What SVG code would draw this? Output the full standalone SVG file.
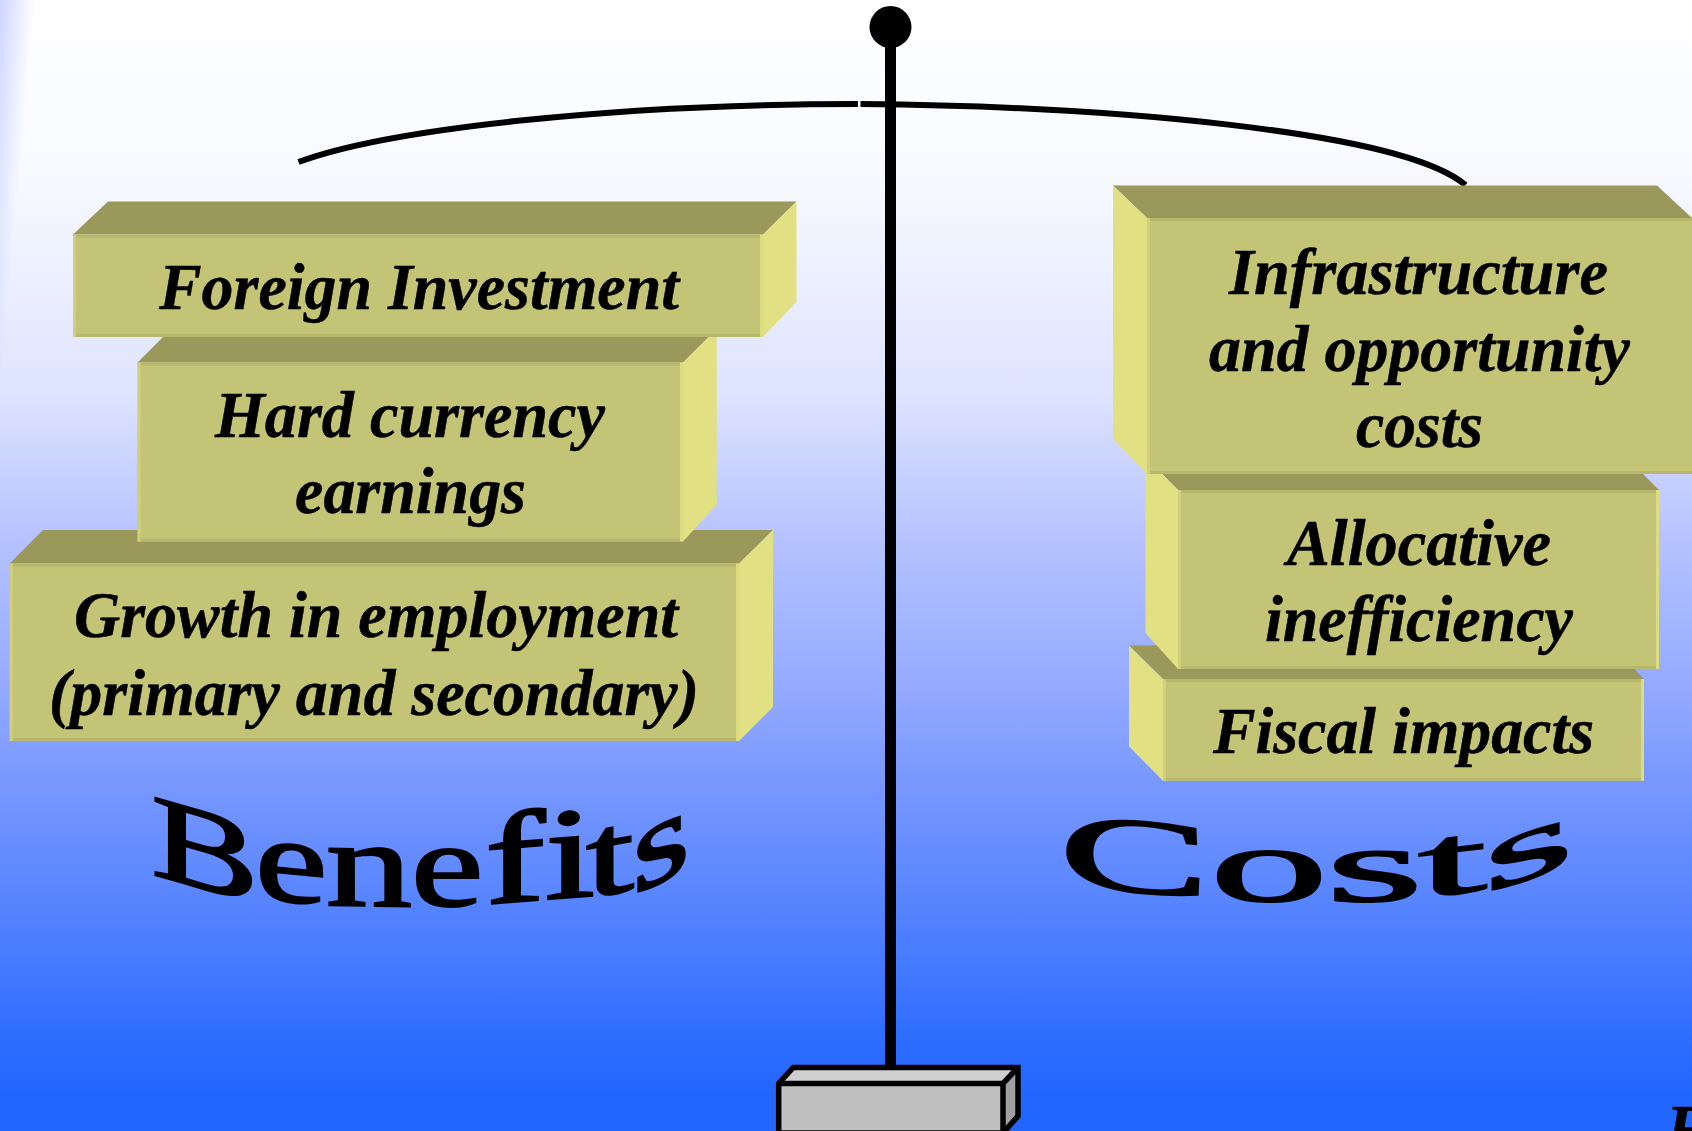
<svg xmlns="http://www.w3.org/2000/svg" width="1692" height="1131" viewBox="0 0 1692 1131">
<defs>
<linearGradient id="bg" x1="0" y1="0" x2="0" y2="1">
<stop offset="0" stop-color="#ffffff"/>
<stop offset="0.16" stop-color="#f7f9ff"/>
<stop offset="0.345" stop-color="#dfe4ff"/>
<stop offset="0.475" stop-color="#b6c3ff"/>
<stop offset="0.62" stop-color="#90a8ff"/>
<stop offset="0.67" stop-color="#7f9cff"/>
<stop offset="0.82" stop-color="#5080ff"/>
<stop offset="0.915" stop-color="#2f6dff"/>
<stop offset="0.97" stop-color="#2066ff"/>
<stop offset="1" stop-color="#2066ff"/>
</linearGradient>
<linearGradient id="edge" gradientUnits="userSpaceOnUse" x1="0" y1="0" x2="34.7" y2="3.1">
<stop offset="0" stop-color="#b4bfff" stop-opacity="0.65"/>
<stop offset="1" stop-color="#b4bfff" stop-opacity="0"/>
</linearGradient>
</defs>
<style>
.front{fill:#c4c476}
.top{fill:#9a985a}
.side{fill:#e1e184}
.bt{fill:#b6b66c}
.bb{fill:#b8b86c}
.bl{fill:#d0d07c}
.br{fill:#dcdc80}
.lab{font-family:"Liberation Serif","Times New Roman",serif;font-weight:bold;font-style:italic;font-size:65px;fill:#000;stroke:#000;stroke-width:.5px}
.wa{font-family:"Liberation Serif","Times New Roman",serif;font-size:100px;fill:#000;stroke:#000;stroke-width:1.8px}
.beam{fill:none;stroke:#000;stroke-width:6}
.line{fill:none;stroke:#000;stroke-width:5.5;stroke-linejoin:miter}
</style>
<rect id="background" width="1692" height="1131" fill="url(#bg)"/>
<rect width="36" height="400" fill="url(#edge)"/>

<g id="balance">
<path class="beam" d="M298.5 162C390 128 620 104 858 104"/>
<path class="beam" d="M860.5 104C1100 106 1400 130 1465.5 185"/>
<rect x="885" y="30" width="11" height="1040" fill="#000"/>
<ellipse cx="890.5" cy="27" rx="21" ry="21" fill="#000"/>
<g id="base">
<path fill="#cfcfcf" d="M778.7 1083.5L793.3 1067.5H1018L1003 1083.5Z"/>
<path fill="#a0a0a0" d="M1003 1083.5L1018 1067.5V1116L1003 1133Z"/>
<rect fill="#c0c0c0" x="778.7" y="1083.5" width="224.3" height="50"/>
<path class="line" d="M778.7 1134V1083.5L793.3 1067.5H1018V1116L1003 1133"/>
<path class="line" d="M778.7 1083.5H1003L1018 1067.5M1003 1083.5V1134M778.7 1133H1003"/>
</g>
</g>

<g id="node-growth">
<path class="top" d="M9.7 563.6L43 530H773L739 563.6Z"/>
<path class="side" d="M739 563.6L773 530V707L739 741Z"/>
<rect class="front" x="9.7" y="563.6" width="729.3" height="177.4"/>
<rect class="bt" x="9.7" y="563.6" width="729.3" height="3"/>
<rect class="bb" x="9.7" y="738" width="729.3" height="3"/>
<rect class="bl" x="9.7" y="563.6" width="3" height="177.4"/>
<rect class="br" x="736" y="563.6" width="3" height="177.4"/>
<text class="lab" x="74" y="637" textLength="604" lengthAdjust="spacingAndGlyphs">Growth in employment</text>
<text class="lab" x="49" y="715" textLength="650" lengthAdjust="spacingAndGlyphs">(primary and secondary)</text>
</g>

<g id="node-hard-currency">
<path class="top" d="M137.6 362.5L171 329H716.7L683 362.5Z"/>
<path class="side" d="M683 362.5L716.7 329V505L683 541.5Z"/>
<rect class="front" x="137.6" y="362.5" width="545.4" height="179"/>
<rect class="bt" x="137.6" y="362.5" width="545.4" height="3"/>
<rect class="bb" x="137.6" y="538.5" width="545.4" height="3"/>
<rect class="bl" x="137.6" y="362.5" width="3" height="179"/>
<rect class="br" x="680" y="362.5" width="3" height="179"/>
<text class="lab" x="215" y="437" textLength="390" lengthAdjust="spacingAndGlyphs">Hard currency</text>
<text class="lab" x="295" y="513" textLength="231" lengthAdjust="spacingAndGlyphs">earnings</text>
</g>

<g id="node-foreign-investment">
<path class="top" d="M73 234.6L108 201.5H796.5L763 234.6Z"/>
<path class="side" d="M763 234.6L796.5 201.5V302L763 337Z"/>
<rect class="front" x="73" y="234.6" width="690" height="102.4"/>
<rect class="bt" x="73" y="234.6" width="690" height="3"/>
<rect class="bb" x="73" y="334" width="690" height="3"/>
<rect class="bl" x="73" y="234.6" width="3" height="102.4"/>
<rect class="br" x="760" y="234.6" width="3" height="102.4"/>
<text class="lab" x="159" y="309" textLength="520" lengthAdjust="spacingAndGlyphs">Foreign Investment</text>
</g>

<g id="node-fiscal">
<path class="top" d="M1129 645.6H1612L1644 679H1163Z"/>
<path class="side" d="M1129 645.6L1163 679V780.7L1129 746.5Z"/>
<rect class="front" x="1163" y="679" width="481" height="101.7"/>
<rect class="bt" x="1163" y="679" width="481" height="3"/>
<rect class="bb" x="1163" y="777.7" width="481" height="3"/>
<rect class="bl" x="1163" y="679" width="3" height="101.7"/>
<rect class="br" x="1641" y="679" width="3" height="101.7"/>
<text class="lab" x="1213" y="753" textLength="381" lengthAdjust="spacingAndGlyphs">Fiscal impacts</text>
</g>

<g id="node-allocative">
<path class="top" d="M1145.5 457H1626L1659 490H1178Z"/>
<path class="side" d="M1145.5 457L1178 490V669L1145.5 633Z"/>
<rect class="front" x="1178" y="490" width="481" height="179"/>
<rect class="bt" x="1178" y="490" width="481" height="3"/>
<rect class="bb" x="1178" y="666" width="481" height="3"/>
<rect class="bl" x="1178" y="490" width="3" height="179"/>
<rect class="br" x="1656" y="490" width="3" height="179"/>
<text class="lab" x="1287" y="565" textLength="264" lengthAdjust="spacingAndGlyphs">Allocative</text>
<text class="lab" x="1265" y="641" textLength="308" lengthAdjust="spacingAndGlyphs">inefficiency</text>
</g>

<g id="node-infrastructure">
<path class="top" d="M1113 185.4H1657L1692 218H1147Z"/>
<path class="side" d="M1113 185.4L1147 218V474L1113 439Z"/>
<rect class="front" x="1147" y="218" width="545" height="256"/>
<rect class="bt" x="1147" y="218" width="545" height="3"/>
<rect class="bb" x="1147" y="471" width="545" height="3"/>
<rect class="bl" x="1147" y="218" width="3" height="256"/>
<text class="lab" x="1229" y="294" textLength="379" lengthAdjust="spacingAndGlyphs">Infrastructure</text>
<text class="lab" x="1209" y="371" textLength="421" lengthAdjust="spacingAndGlyphs">and opportunity</text>
<text class="lab" x="1356" y="447" textLength="127" lengthAdjust="spacingAndGlyphs">costs</text>
</g>

<g id="title-benefits">
<text class="wa" transform="matrix(1.61 .46 0 1.18 151.3 874)">B</text>
<text class="wa" transform="matrix(1.63 .16 0 1.21 255 898)">e</text>
<text class="wa" transform="matrix(1.72 .03 0 1.23 326 905)">n</text>
<text class="wa" transform="matrix(1.63 0 0 1.21 411 906)">e</text>
<text class="wa" transform="matrix(1.8 -.14 0 1.3 485 904)">fi</text>
<text class="wa" transform="matrix(1.72 -.3 0 1.17 586 898)">t</text>
<text class="wa" transform="matrix(1.47 -.73 0 1.22 632.5 896)">s</text>
</g>
<g id="title-costs">
<text class="wa" transform="matrix(2.26 .2 0 1.07 1059 885)">C</text>
<text class="wa" transform="matrix(2.36 0 0 1.05 1210 901)">o</text>
<text class="wa" transform="matrix(2.5 -.05 0 1.05 1326 902)">s</text>
<text class="wa" transform="matrix(2.47 -.3 0 1 1418 898)">t</text>
<text class="wa" transform="matrix(2.3 -.78 0 1 1484 894)">s</text>
</g>
<text class="lab" x="1666" y="1150">F</text>
</svg>
